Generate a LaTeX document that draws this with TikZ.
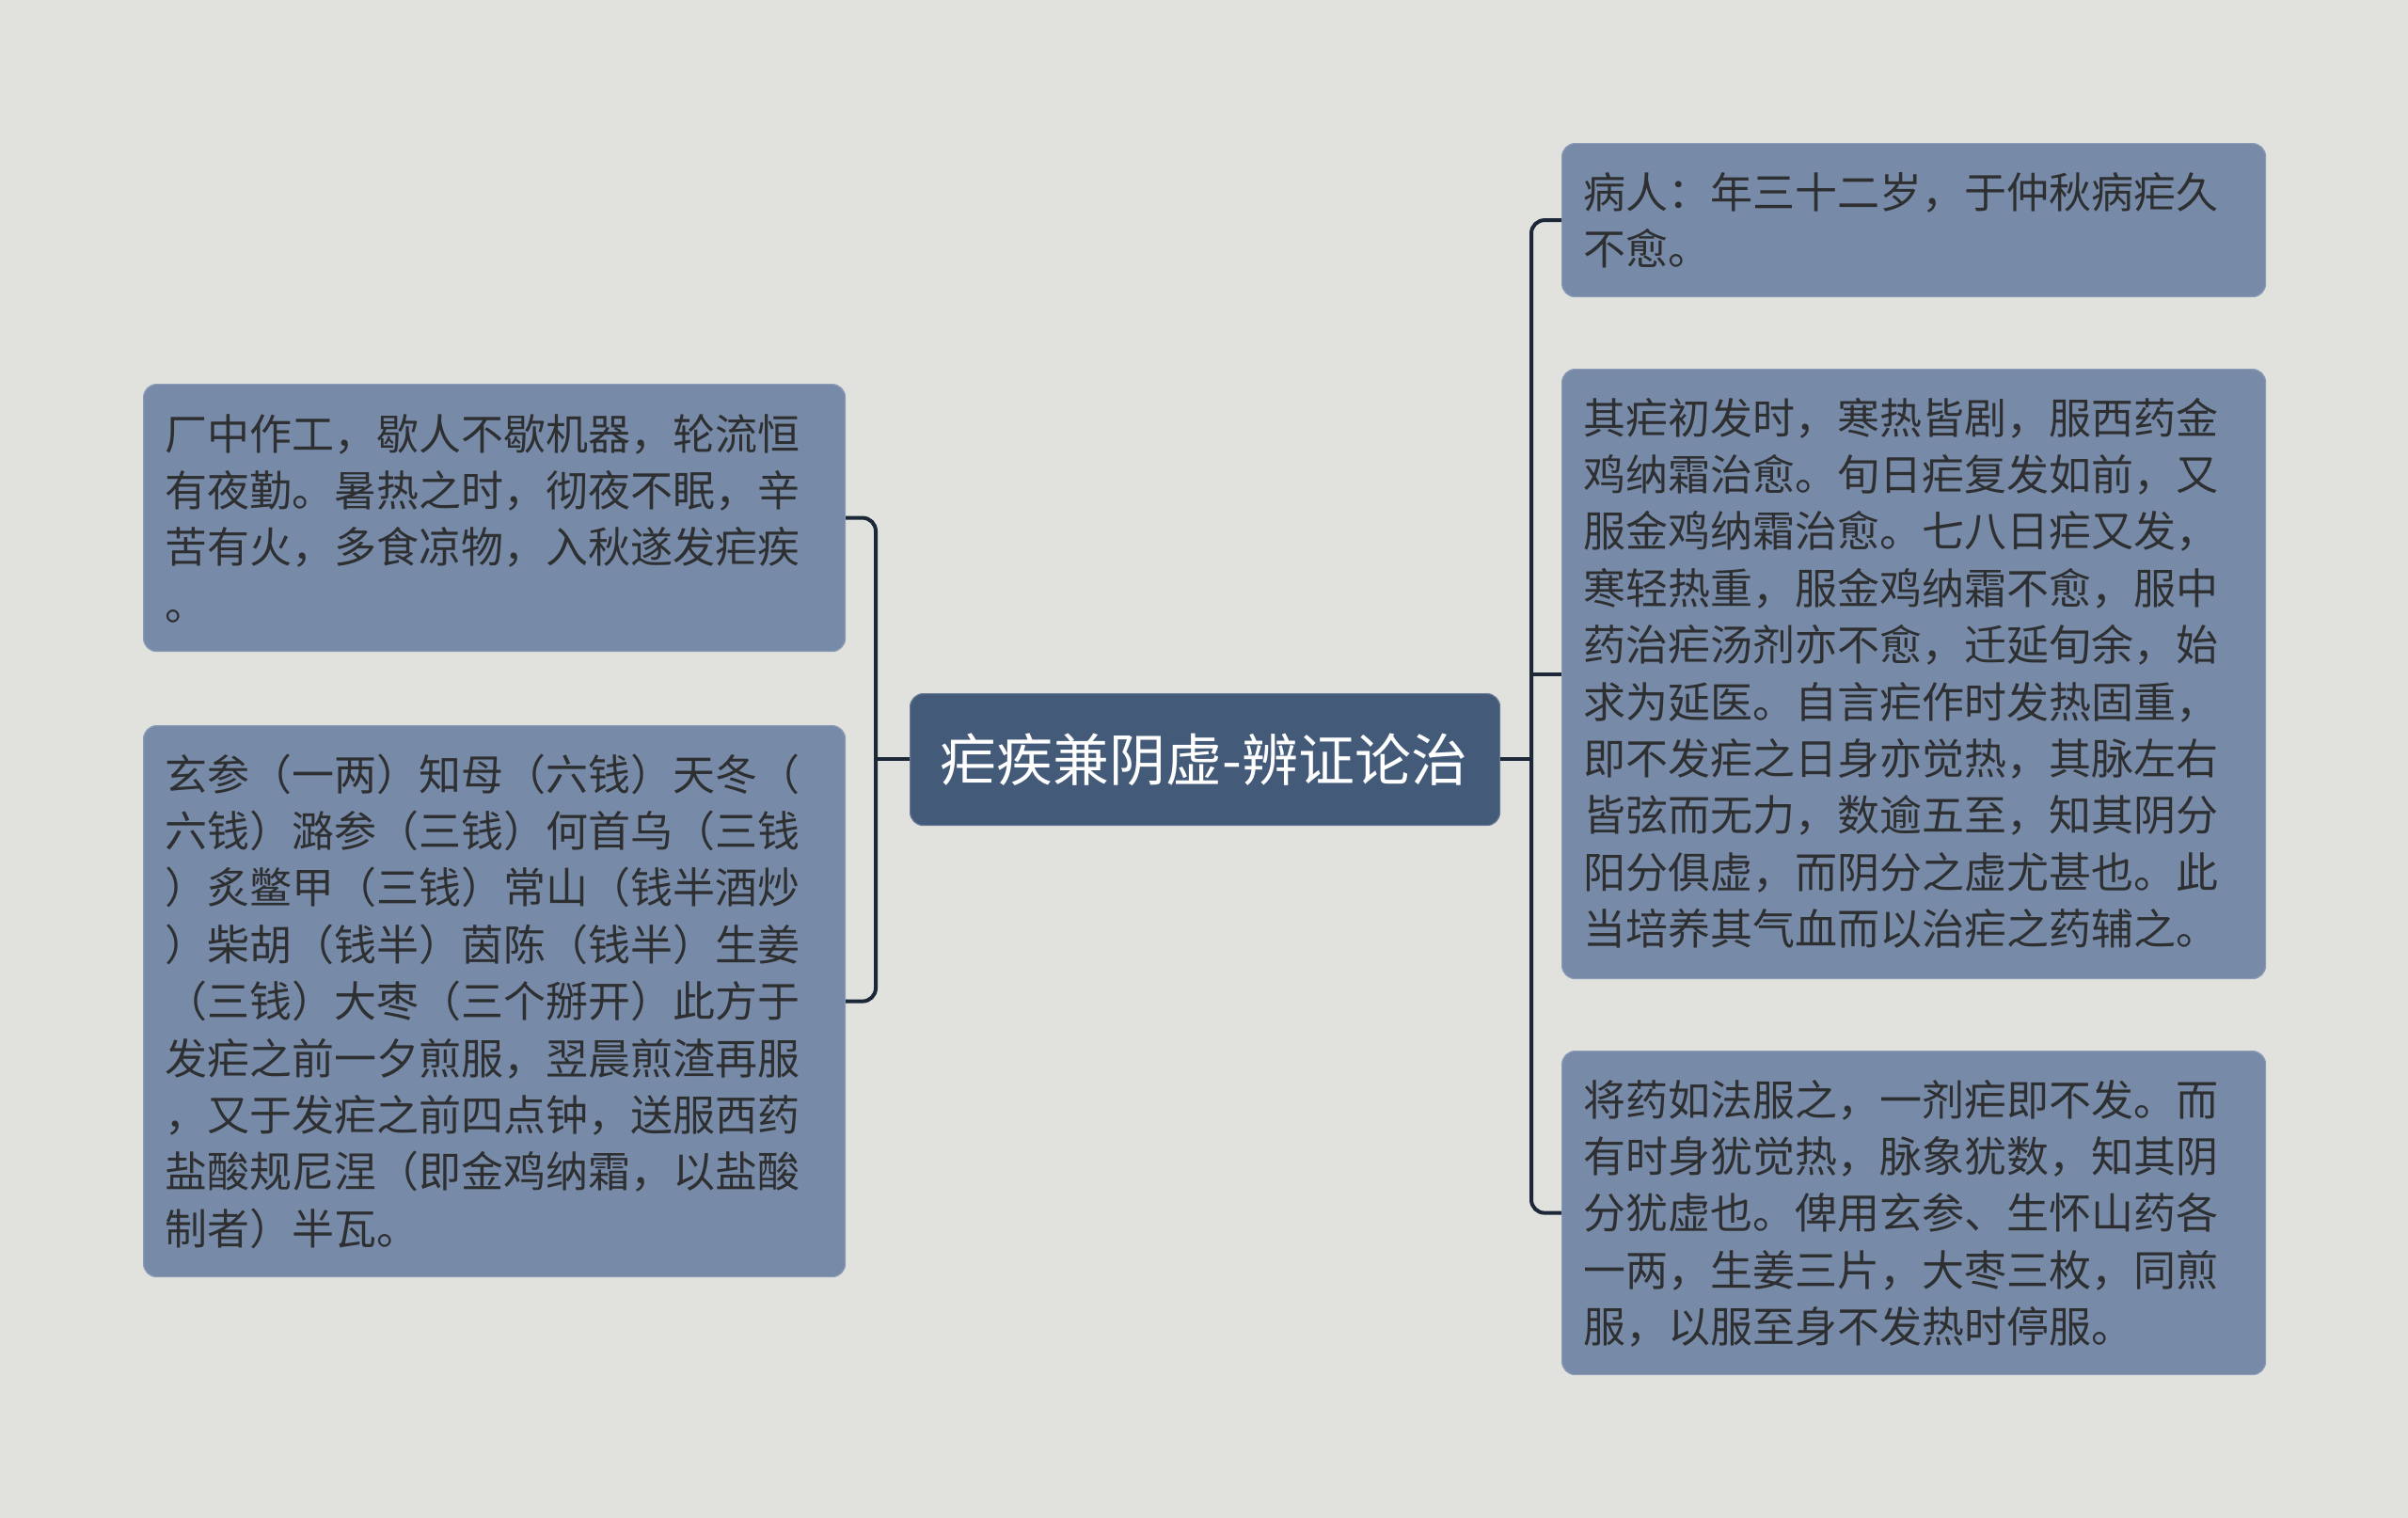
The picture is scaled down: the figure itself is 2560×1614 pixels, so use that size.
\documentclass[tikz,border=0pt]{standalone}
\usepackage{fontspec}
\newfontfamily\cjk{Noto Sans CJK SC}
\usetikzlibrary{calc}
\definecolor{bgc}{HTML}{E1E2DD}
\definecolor{boxc}{HTML}{778AA8}
\definecolor{boxe}{HTML}{8C9CB7}
\definecolor{rootc}{HTML}{435A79}
\definecolor{linec}{HTML}{1C2838}
\definecolor{txtc}{HTML}{2E2F31}
\tikzset{
  leafbox/.style={draw=boxe, line width=1.2pt, fill=boxc, rounded corners=14pt, anchor=north west, inner sep=0pt},
  leaftxt/.style={anchor=base west, inner sep=0pt, align=left, text=txtc, font=\cjk\fontsize{45}{60.4}\selectfont},
  rootbox/.style={draw=rootc!80!white, line width=1.2pt, fill=rootc, rounded corners=14pt, anchor=north west, inner sep=0pt},
  roottxt/.style={anchor=base, inner sep=0pt, text=white, font=\cjk\fontsize{60}{70}\selectfont},
  conn/.style={draw=linec, line width=4pt, rounded corners=14pt}
}
\begin{document}
\begin{tikzpicture}[x=1pt,y=-1pt]
\fill[bgc] (0,0) rectangle (2560,1614);
\useasboundingbox (0,0) rectangle (2560,1614);

% root
\node[rootbox, minimum width=627pt, minimum height=140pt] (root) at (967,737) {};
\node[roottxt] (roott) at (1280,830) {疟疾兼阴虚-辨证论治};

% left boxes (text anchored at the baseline of the last line)
\node[leafbox, minimum width=746pt, minimum height=284pt] (l1) at (152,408) {};
\node[leaftxt] (l1t) at (175,659.2) {厂中作工，歇人不歇机器，轮流恒\\有夜勤。暑热之时，彻夜不眠，辛\\苦有火，多食凉物，入秋遂发疟疾\\。};

\node[leafbox, minimum width=746pt, minimum height=586pt] (l2) at (152,771) {};
\node[leaftxt] (l2t) at (175,1323.2) {玄参（一两）知母（六钱）天冬（\\六钱）潞参（三钱）何首乌（三钱\\）炙鳖甲（三钱）常山（钱半酒炒\\）柴胡（钱半）茵陈（钱半）生姜\\（三钱）大枣（三个掰开）此方于\\发疟之前一夕煎服，翌晨煎渣再服\\，又于发疟之前四点钟，送服西药\\盐酸规尼涅（即金鸡纳霜，以盐酸\\制者）半瓦。};

% right boxes
\node[leafbox, minimum width=748pt, minimum height=163pt] (r1) at (1660,152) {};
\node[leaftxt] (r1t) at (1683,281.4) {病人：年三十二岁，于仲秋病疟久\\不愈。};

\node[leafbox, minimum width=748pt, minimum height=648pt] (r2) at (1660,392) {};
\node[leaftxt] (r2t) at (1683,1004.6) {其疟初发时，寒热皆剧，服西药金\\鸡纳霜治愈。旬日疟复发如前，又\\服金鸡纳霜治愈。七八日疟又发，\\寒轻热重，服金鸡纳霜不愈，服中\\药治疟汤剂亦不愈，迁延旬余，始\\求为延医。自言疟作时发热固重，\\即不发疟之日身亦觉热，其脉左右\\皆弦而无力，数逾五至，知其阴分\\阳分俱虚，而阴分之虚尤甚也。此\\当培养其气血而以治疟之药辅之。};

\node[leafbox, minimum width=748pt, minimum height=344pt] (r3) at (1660,1117) {};
\node[leaftxt] (r3t) at (1683,1427.6) {将药如法服之，一剂疟即不发。而\\有时身犹觉热，脉象犹数，知其阴\\分犹虚也。俾用玄参、生怀山药各\\一两，生姜三片，大枣三枚，同煎\\服，以服至身不发热时停服。};

% junctions
\coordinate (lj) at (931,807);
\coordinate (rj) at (1628,807);

% connectors
\draw[conn] (root.west |- lj) -- (lj);
\draw[conn] (l1.east) -| (lj) |- (l2.east);
\draw[conn] (root.east |- rj) -- (rj);
\draw[conn] (r1.west) -| (rj) |- (r3.west);
\draw[conn] (r2.west) -- (r2.west -| rj);
\end{tikzpicture}
\end{document}
